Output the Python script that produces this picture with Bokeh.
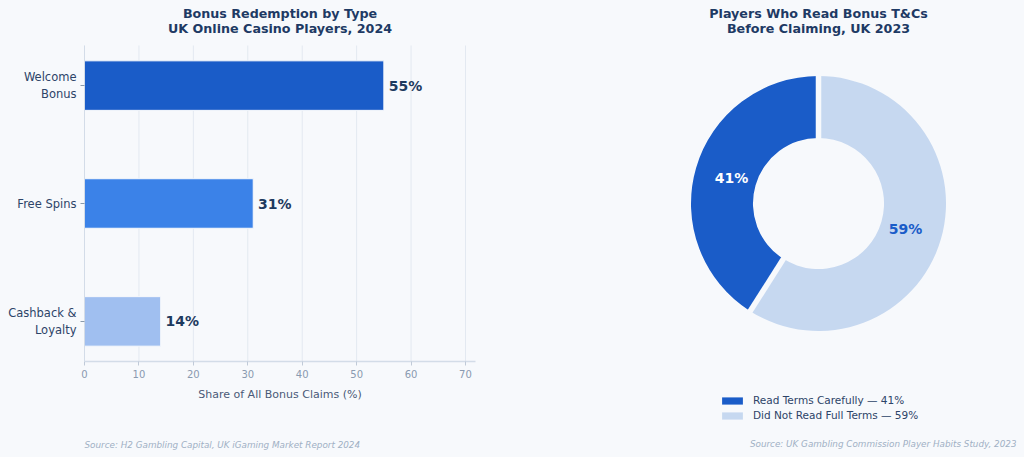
import math
from bokeh.plotting import figure
from bokeh.models import (Range1d, FixedTicker, Title, Legend, LegendItem, Label,
                          ColumnDataSource)
from bokeh.core.properties import value
from bokeh.embed import file_html
from bokeh.resources import INLINE

# ---------------- data ----------------
categories = ["Welcome\nBonus", "Free Spins", "Cashback &\nLoyalty"]
shares = [55, 31, 14]
bar_colors = ["#1a5cc8", "#3b82e8", "#a0bff0"]
x_ticks = [0, 10, 20, 30, 40, 50, 60, 70]

donut_labels = ["Read Terms Carefully", "Did Not Read Full Terms"]
donut_values = [41, 59]
donut_colors = ["#1a5cc8", "#c6d8f0"]
donut_text_colors = ["#ffffff", "#1a5cc8"]

left_title = ["Bonus Redemption by Type", "UK Online Casino Players, 2024"]
right_title = ["Players Who Read Bonus T&Cs", "Before Claiming, UK 2023"]
left_source = "Source: H2 Gambling Capital, UK iGaming Market Report 2024"
right_source = "Source: UK Gambling Commission Player Habits Study, 2023"

BG = "#f7f9fc"
FONT = "DejaVu Sans"
TITLE_C = "#1e3a64"
SRC_C = "#a0b0c4"
H = 457


def add_title_labels(p, lines, cx, frame_h):
    for line, ytop in zip(lines, [13, 28]):
        p.add_layout(Label(x=cx, y=frame_h - ytop, x_units="screen", y_units="screen",
                           text=line, text_font=FONT, text_font_size="12.7px",
                           text_font_style="bold", text_color=TITLE_C,
                           text_align="center", text_baseline="middle"))


# ---------------- left: bar chart ----------------
X_MAX = 71.84
Y_LO, Y_HI = 2.34, -0.34          # bottom / top of the bar axes
frame_top_pad = 45
px_per_unit = (361 - frame_top_pad) / (Y_LO - Y_HI)
y_top = Y_HI - frame_top_pad / px_per_unit

p1 = figure(width=600, height=H, output_backend="svg", toolbar_location=None,
            x_range=Range1d(0, X_MAX), y_range=Range1d(Y_LO, y_top),
            min_border_left=84, min_border_right=125, min_border_top=0,
            min_border_bottom=96)
p1.background_fill_color = BG
p1.border_fill_color = BG
p1.outline_line_color = None
p1.grid.visible = False

# vertical grid lines limited to the axes area
p1.segment(x0=x_ticks, x1=x_ticks, y0=[Y_LO] * len(x_ticks), y1=[Y_HI] * len(x_ticks),
           line_color="#e3e9f1", line_width=1)

ys = list(range(len(categories)))
src = ColumnDataSource(dict(y=ys, v=shares, c=bar_colors,
                            lx=[s + 0.9 for s in shares],
                            t=[f"{s}%" for s in shares]))
p1.hbar(y="y", right="v", left=0, height=0.42, fill_color="c",
        line_color=BG, line_width=1, source=src)
p1.text(x="lx", y="y", text="t", source=src, text_font=value(FONT),
        text_font_size="14px", text_font_style="bold", text_color="#1e3a5f",
        text_baseline="middle", text_align="left")

add_title_labels(p1, left_title, 391 / 2, 361)

p1.xaxis.ticker = FixedTicker(ticks=x_ticks)
p1.xaxis.axis_label = "Share of All Bonus Claims (%)"
p1.xaxis.axis_label_text_font = FONT
p1.xaxis.axis_label_text_font_size = "11px"
p1.xaxis.axis_label_text_font_style = "normal"
p1.xaxis.axis_label_text_color = "#4a5a78"
p1.xaxis.axis_label_standoff = 7
p1.xaxis.major_label_text_font = FONT
p1.xaxis.major_label_text_font_size = "10px"
p1.xaxis.major_label_text_color = "#8a9ab0"
p1.xaxis.major_label_standoff = 4
p1.xaxis.axis_line_color = "#d3dce8"
p1.xaxis.axis_line_width = 1.5
p1.xaxis.major_tick_line_color = "#c0cad8"
p1.xaxis.major_tick_out = 4
p1.xaxis.major_tick_in = 0
p1.xaxis.minor_tick_line_color = None

p1.yaxis.ticker = FixedTicker(ticks=ys)
p1.yaxis.bounds = (Y_HI, Y_LO)
p1.yaxis.major_label_overrides = {i: c for i, c in zip(ys, categories)}
p1.yaxis.major_label_text_font = FONT
p1.yaxis.major_label_text_font_size = "11.5px"
p1.yaxis.major_label_text_color = "#2d4468"
p1.yaxis.major_label_standoff = 4
p1.yaxis.axis_line_color = "#d3dce8"
p1.yaxis.major_tick_line_color = "#8899aa"
p1.yaxis.major_tick_out = 4
p1.yaxis.major_tick_in = 0
p1.yaxis.minor_tick_line_color = None

# spacer + source line below the x axis
p1.add_layout(Title(text="\u00a0", text_font=FONT, text_font_size="8.8px",
                    text_color=BG, standoff=22), "below")
p1.add_layout(Title(text=left_source, align="left", text_font=FONT,
                    text_font_size="8.8px", text_font_style="italic",
                    text_color=SRC_C, standoff=0), "below")

# ---------------- right: donut ----------------
SCALE = 127.5  # px per unit radius
fw, fh = 396, H
cy_top = 203
p2 = figure(width=424, height=H, output_backend="svg", toolbar_location=None,
            x_range=Range1d(-fw / 2 / SCALE, fw / 2 / SCALE),
            y_range=Range1d(-(fh - cy_top) / SCALE, cy_top / SCALE),
            min_border_left=20, min_border_right=8, min_border_top=0,
            min_border_bottom=0)
p2.background_fill_color = BG
p2.border_fill_color = BG
p2.outline_line_color = None
p2.axis.visible = False
p2.grid.visible = False

total = sum(donut_values)
starts, ends, mids = [], [], []
acc = 90.0
for v in donut_values:
    a0 = acc
    a1 = acc + 360.0 * v / total
    starts.append(math.radians(a0))
    ends.append(math.radians(a1))
    mids.append(math.radians((a0 + a1) / 2))
    acc = a1

LR = 0.71
dsrc = ColumnDataSource(dict(s=starts, e=ends, c=donut_colors,
                             lx=[LR * math.cos(m) for m in mids],
                             ly=[LR * math.sin(m) for m in mids],
                             t=[f"{v}%" for v in donut_values],
                             tc=donut_text_colors))
wr = p2.annular_wedge(x=0, y=0, inner_radius=0.514, outer_radius=1.0,
                      start_angle="s", end_angle="e", direction="anticlock",
                      fill_color="c", line_color=None, source=dsrc)
# separating gaps between the slices
p2.segment(x0=[0.45 * math.cos(a) for a in starts],
           y0=[0.45 * math.sin(a) for a in starts],
           x1=[1.05 * math.cos(a) for a in starts],
           y1=[1.05 * math.sin(a) for a in starts],
           line_color=BG, line_width=5.5)
p2.text(x="lx", y="ly", text="t", text_color="tc", source=dsrc,
        text_font=value(FONT), text_font_size="14px", text_font_style="bold",
        text_align="center", text_baseline="middle")

items = [LegendItem(label=f"{lab} — {v}%", renderers=[wr], index=i)
         for i, (lab, v) in enumerate(zip(donut_labels, donut_values))]
leg = Legend(items=items, location=(99, 36), orientation="vertical",
             background_fill_alpha=0, border_line_color=None, padding=0,
             margin=0, spacing=3, label_height=12, glyph_height=9,
             glyph_width=26, label_standoff=8, label_text_font=FONT,
             label_text_font_size="10.5px", label_text_color="#2d4468")
p2.add_layout(leg, "center")

add_title_labels(p2, right_title, fw / 2, fh)

p2.add_layout(Label(x=fw, y=14, x_units="screen", y_units="screen",
                    text=right_source, text_font=FONT, text_font_size="8.8px",
                    text_font_style="italic", text_color=SRC_C,
                    text_baseline="middle", text_align="right"))

html = file_html([p1, p2], INLINE)
html = html.replace("<body>",
                    '<body style="margin:0;display:flex;flex-direction:row;'
                    'align-items:flex-start;background:%s;">' % BG)
open("out.html", "w").write(html)
